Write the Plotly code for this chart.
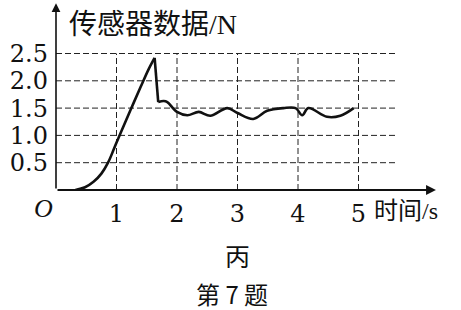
import plotly.graph_objects as go

# ---- data ----
time_s = [0.32, 0.48, 0.62, 0.75, 0.86, 0.96, 1.05, 1.23, 1.40, 1.53, 1.63,
          1.69, 1.78, 1.84, 2.00, 2.17, 2.36, 2.55, 2.83, 3.00, 3.26, 3.49,
          3.76, 3.96, 4.07, 4.17, 4.48, 4.70, 4.92]
force_N = [0.00, 0.05, 0.15, 0.30, 0.50, 0.76, 1.00, 1.46, 1.89, 2.21, 2.42,
           1.61, 1.63, 1.61, 1.43, 1.37, 1.43, 1.36, 1.50, 1.41, 1.30, 1.45,
           1.50, 1.50, 1.37, 1.50, 1.34, 1.36, 1.50]
x_ticks = [1, 2, 3, 4, 5]
x_tick_text = ["1", "2", "3", "4", "5"]
y_ticks = [0.5, 1.0, 1.5, 2.0, 2.5]
y_tick_text = ["0.5", "1.0", "1.5", "2.0", "2.5"]
y_title = "传感器数据/N"
x_title = "时间/s"
origin_label = "O"
sub_label = "丙"
caption = "第 7 题"

W, H = 461, 310
ML, MR, MT, MB = 56, 24, 4, 120
PW, PH = W - ML - MR, H - MT - MB
XMAX = PW / 60.5
YMAX = PH / 54.6

def px(xp):
    return (xp - ML) / PW

def py(yp):
    return (H - MB - yp) / PH

peak = force_N.index(max(force_N))
rise_t, rise_f = time_s[:peak + 1], force_N[:peak + 1]
drop_t, drop_f = time_s[peak:peak + 2], force_N[peak:peak + 2]
rest_t, rest_f = time_s[peak + 1:], force_N[peak + 1:]

line_style = dict(color="#111", width=2.6)
fig = go.Figure()
fig.add_trace(go.Scatter(x=rise_t, y=rise_f, mode="lines",
                         line=dict(shape="spline", smoothing=1.0, **line_style)))
fig.add_trace(go.Scatter(x=drop_t, y=drop_f, mode="lines", line=line_style))
fig.add_trace(go.Scatter(x=rest_t, y=rest_f, mode="lines",
                         line=dict(shape="spline", smoothing=1.0, **line_style)))

grid = dict(color="#222", width=1, dash="6px,3px")
shapes = []
for yv in y_ticks:
    shapes.append(dict(type="line", xref="x", yref="y", x0=0, x1=5.64,
                       y0=yv, y1=yv, line=grid, layer="below"))
for xv in x_ticks:
    shapes.append(dict(type="line", xref="x", yref="y", x0=xv, x1=xv,
                       y0=0, y1=max(y_ticks), line=grid, layer="below"))

serif = "Liberation Serif, Noto Sans CJK SC"
num_font = dict(family="DejaVu Serif", size=24, color="#111")
annotations = [
    # axes with arrows
    dict(x=6.28, y=0, ax=0, ay=0, xref="x", yref="y", axref="x", ayref="y",
         text="", showarrow=True, arrowhead=2, arrowsize=1.1, arrowwidth=1.8,
         arrowcolor="#111"),
    dict(x=0, y=3.42, ax=0, ay=0, xref="x", yref="y", axref="x", ayref="y",
         text="", showarrow=True, arrowhead=2, arrowsize=1.1, arrowwidth=1.6,
         arrowcolor="#111"),
    dict(x=px(67), y=py(24), xref="paper", yref="paper", text=y_title,
         showarrow=False, xanchor="left", yanchor="middle",
         font=dict(family=serif, size=28, color="#111")),
    dict(x=px(372), y=py(211), xref="paper", yref="paper", text=x_title,
         showarrow=False, xanchor="left", yanchor="middle",
         font=dict(family=serif, size=24, color="#111")),
    dict(x=px(43), y=py(209), xref="paper", yref="paper",
         text="<i>" + origin_label + "</i>", showarrow=False,
         xanchor="center", yanchor="middle",
         font=dict(family="Liberation Serif", size=26, color="#111")),
    dict(x=px(237), y=py(255), xref="paper", yref="paper", text=sub_label,
         showarrow=False, xanchor="center", yanchor="middle",
         font=dict(family="Noto Sans CJK SC", size=25, color="#111")),
    dict(x=px(232), y=py(293), xref="paper", yref="paper", text=caption,
         showarrow=False, xanchor="center", yanchor="middle",
         font=dict(family="Noto Sans CJK SC", size=24, color="#111")),
]

fig.update_layout(
    width=W, height=H, margin=dict(l=ML, r=MR, t=MT, b=MB),
    paper_bgcolor="white", plot_bgcolor="white", showlegend=False,
    shapes=shapes, annotations=annotations,
    xaxis=dict(range=[0, XMAX], tickvals=x_ticks, ticktext=x_tick_text,
               showgrid=False, zeroline=False, showline=False, ticks="",
               tickfont=num_font, ticklabelstandoff=7, fixedrange=True),
    yaxis=dict(range=[0, YMAX], tickvals=y_ticks, ticktext=y_tick_text,
               showgrid=False, zeroline=False, showline=False, ticks="",
               tickfont=num_font, ticklabelstandoff=7, fixedrange=True),
)
fig.write_html("out.html", config={"displayModeBar": False})
